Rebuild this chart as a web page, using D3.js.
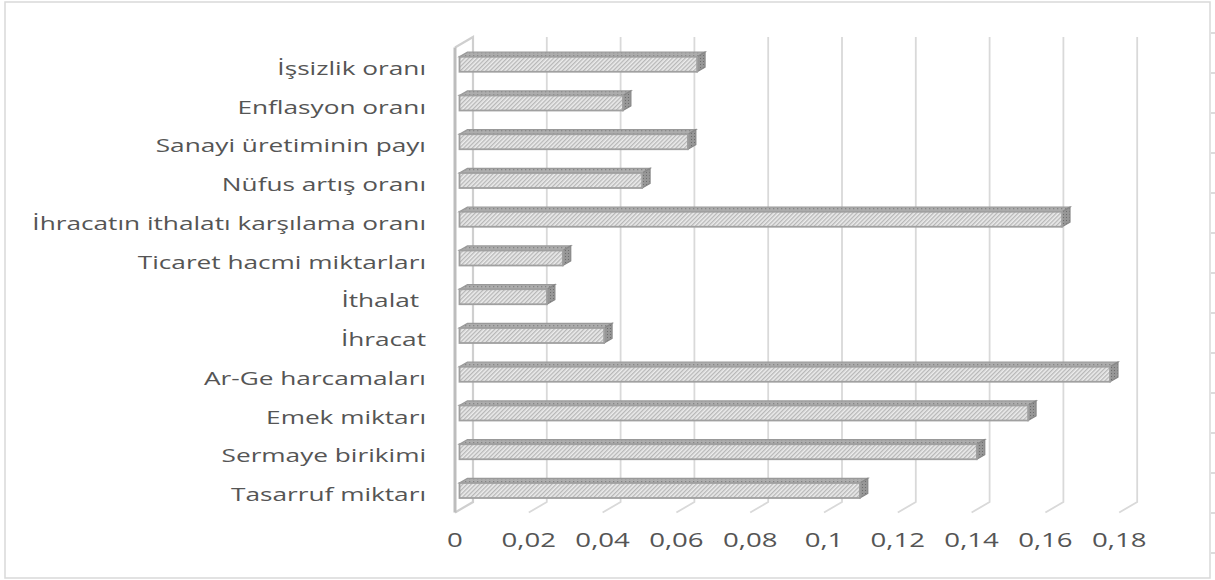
<!DOCTYPE html>
<html><head><meta charset="utf-8">
<script src="https://cdn.jsdelivr.net/npm/d3@7"></script>
<style>
html,body{margin:0;padding:0;background:#fff;}
svg{display:block;}
text{font-family:"Open Sans","Noto Sans",sans-serif;fill:#555555;white-space:pre;}
</style></head>
<body>
<script>
// ---- data ----
const categories = ["İşsizlik oranı","Enflasyon oranı","Sanayi üretiminin payı","Nüfus artış oranı","İhracatın ithalatı karşılama oranı","Ticaret hacmi miktarları","İthalat ","İhracat","Ar-Ge harcamaları","Emek miktarı","Sermaye birikimi","Tasarruf miktarı"];
const values = [0.0644, 0.0443, 0.0619, 0.0495, 0.1633, 0.0280, 0.0237, 0.0392, 0.1763, 0.1541, 0.1402, 0.1085];
const tickValues = [0, 0.02, 0.04, 0.06, 0.08, 0.1, 0.12, 0.14, 0.16, 0.18];
const tickLabels = ["0","0,02","0,04","0,06","0,08","0,1","0,12","0,14","0,16","0,18"];

// ---- layout ----
const W = 1215, H = 580;
const front = {x0: 455, x1: 1119.2, top: 47.5, bottom: 512.5};
const depth = {dx: 18, dy: -10.5};
const f1 = 0.25, f2 = 0.69;
const sx = 1.38; // horizontal text stretch
const fontSize = 19;

const svg = d3.select("body").append("svg").attr("width", W).attr("height", H);
const defs = svg.append("defs");
const hatch = defs.append("pattern").attr("id","hatch").attr("patternUnits","userSpaceOnUse")
  .attr("width",3).attr("height",3).attr("patternTransform","rotate(45)");
hatch.append("rect").attr("width",3).attr("height",3).attr("fill","#ececec");
hatch.append("line").attr("x1",0.7).attr("y1",0).attr("x2",0.7).attr("y2",3).attr("stroke","#b2b2b2").attr("stroke-width",1.2);
const dots = defs.append("pattern").attr("id","dots").attr("patternUnits","userSpaceOnUse").attr("width",4).attr("height",3);
dots.append("rect").attr("width",4).attr("height",3).attr("fill","#adadad");
dots.append("rect").attr("x",1).attr("y",1).attr("width",1.3).attr("height",1.3).attr("fill","#858585");
const dots2 = defs.append("pattern").attr("id","dots2").attr("patternUnits","userSpaceOnUse").attr("width",3).attr("height",3);
dots2.append("rect").attr("width",3).attr("height",3).attr("fill","#979797");
dots2.append("rect").attr("x",1).attr("y",1).attr("width",1).attr("height",1).attr("fill","#6e6e6e");

// border + sheet artefacts
svg.append("rect").attr("x",5).attr("y",2).attr("width",1205).attr("height",576)
  .attr("fill","#fff").attr("stroke","#d9d9d9").attr("stroke-width",1.5);
svg.append("g").selectAll("line").data(d3.range(33, 580, 40)).join("line")
  .attr("x1",1211).attr("x2",1215).attr("y1",d=>d).attr("y2",d=>d)
  .attr("stroke","#d0d0d0").attr("stroke-width",1.5);

// scales
const x = d3.scaleLinear().domain([0, 0.18]).range([front.x0, front.x1]);
const y = d3.scaleBand().domain(categories).range([front.top, front.bottom])
  .paddingInner(0.613).paddingOuter(0.3065);

// gridlines on back wall + floor
const grid = svg.append("g");
grid.selectAll("path").data(tickValues.filter(v => v > 0)).join("path")
  .attr("d", v => `M${x(v)+depth.dx},${front.top+depth.dy}L${x(v)+depth.dx},${front.bottom+depth.dy}L${x(v)},${front.bottom}`)
  .attr("fill","none").attr("stroke","#d9d9d9").attr("stroke-width",1.8);

// side wall
const x0 = x(0);
svg.append("path")
  .attr("d", `M${x0},${front.top}L${x0+depth.dx},${front.top+depth.dy}L${x0+depth.dx},${front.bottom+depth.dy}L${x0},${front.bottom}`)
  .attr("fill","none").attr("stroke","#cfcfcf").attr("stroke-width",2.2);
svg.append("line").attr("x1",x0).attr("x2",x0).attr("y1",front.top).attr("y2",front.bottom)
  .attr("stroke","#bdbdbd").attr("stroke-width",3);

// bars
const ox = f1*depth.dx, oy = f1*depth.dy;
const ddx = (f2-f1)*depth.dx, ddy = (f2-f1)*depth.dy;
const bars = svg.append("g").selectAll("g").data(categories.map((c,i)=>({c, v: values[i]}))).join("g");
bars.append("path").attr("d", d => {
    const xl = x(0)+ox, xr = x(d.v)+ox, yt = y(d.c)+oy;
    return `M${xl},${yt}L${xr},${yt}L${xr+ddx},${yt+ddy}L${xl+ddx},${yt+ddy}Z`;
  }).attr("fill","url(#dots)").attr("stroke","#999999").attr("stroke-width",1.2);
bars.append("path").attr("d", d => {
    const xr = x(d.v)+ox, yt = y(d.c)+oy, yb = yt + y.bandwidth();
    return `M${xr},${yt}L${xr+ddx},${yt+ddy}L${xr+ddx},${yb+ddy}L${xr},${yb}Z`;
  }).attr("fill","url(#dots2)").attr("stroke","#888888").attr("stroke-width",1.2);
bars.append("rect")
  .attr("x", x(0)+ox).attr("y", d => y(d.c)+oy)
  .attr("width", d => x(d.v)-x(0)).attr("height", y.bandwidth())
  .attr("fill","url(#hatch)").attr("stroke","#a0a0a0").attr("stroke-width",1.8);

// category labels
const labelRight = 426;
svg.append("g").selectAll("text").data(categories).join("text")
  .attr("transform", c => `translate(${labelRight},${y(c)+y.bandwidth()/2+8}) scale(${sx},1)`)
  .attr("text-anchor","end").attr("font-size",fontSize)
  .text(c => c);

// value axis labels
svg.append("g").selectAll("text").data(tickValues).join("text")
  .attr("transform", (v) => `translate(${x(v)},547) scale(${sx},1)`)
  .attr("text-anchor","middle").attr("font-size",fontSize+1)
  .text((v,i) => tickLabels[i]);
</script>
</body></html>
